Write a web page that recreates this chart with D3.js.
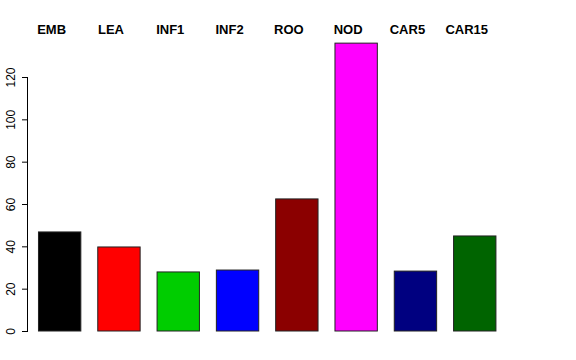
<!DOCTYPE html>
<html>
<head>
<meta charset="utf-8">
<script src="https://cdn.jsdelivr.net/npm/d3@7"></script>
<style>
  body { margin: 0; background: #fff; }
  text { font-family: "Liberation Sans", Arial, sans-serif; }
</style>
</head>
<body>
<svg id="chart" width="576" height="360"></svg>
<script>
const categories = ["EMB", "LEA", "INF1", "INF2", "ROO", "NOD", "CAR5", "CAR15"];
const values = [46.8, 39.7, 27.9, 28.8, 62.4, 136, 28.3, 44.9];
const colors = ["#000000", "#ff0000", "#00cd00", "#0000ff", "#8b0000", "#ff00ff", "#000080", "#006400"];
const yTicks = [0, 20, 40, 60, 80, 100, 120];

const drawBars = ()=>{
    let svg = d3.select("#chart");

    // plot region: y 0 -> 331px, 120 -> 77px
    let yScale = d3.scaleLinear().domain([0, 120]).range([331, 77]);

    let xScale = d3.scaleBand()
        .domain(categories)
        .range([29.5, 29.5 + 59.3 * 8])
        .paddingInner(0.2857)
        .paddingOuter(0.2857 / 2);

    let yAxis = d3.axisLeft(yScale)
        .tickValues(yTicks)
        .tickSize(6)
        .tickFormat(d3.format("d"));

    let ax = svg.append("g")
        .attr("transform", "translate(28,0)")
        .call(yAxis);
    ax.select(".domain")
        .attr("d", "M-0.5," + yScale(0) + "V" + yScale(120))
        .attr("stroke", "#000");
    ax.selectAll(".tick line").attr("stroke", "#000");
    ax.selectAll(".tick text")
        .attr("transform", "rotate(-90)")
        .attr("x", 0)
        .attr("y", -13)
        .attr("dy", 0)
        .attr("text-anchor", "middle")
        .attr("font-size", "12px")
        .attr("font-family", "Liberation Sans, Arial, sans-serif")
        .attr("fill", "#000");

    svg.selectAll("rect.bar")
        .data(categories)
        .enter()
        .append("rect")
        .attr("class", "bar")
        .attr("x", (d)=>xScale(d) + 0.5)
        .attr("width", xScale.bandwidth())
        .attr("y", (d, i)=>yScale(values[i]))
        .attr("height", (d, i)=>yScale(0) - yScale(values[i]))
        .attr("fill", (d, i)=>colors[i])
        .attr("stroke", "#222")
        .attr("stroke-width", 1);

    svg.selectAll("text.lab")
        .data(categories)
        .enter()
        .append("text")
        .attr("class", "lab")
        .attr("x", (d)=>xScale(d) + xScale.bandwidth() / 2 - 7.5)
        .attr("y", 34)
        .attr("text-anchor", "middle")
        .attr("font-size", "13px")
        .attr("font-weight", "bold")
        .text((d)=>d);
};

window.onload = function(){
    drawBars();
};
</script>
</body>
</html>
